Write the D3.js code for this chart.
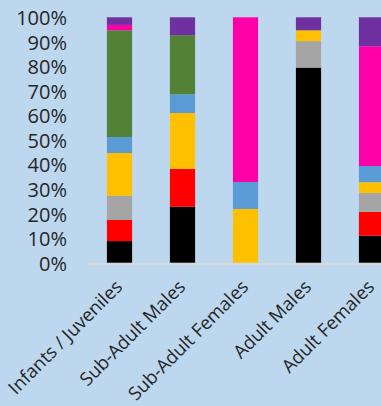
<!DOCTYPE html>
<html><head><meta charset="utf-8">
<script src="https://cdn.jsdelivr.net/npm/d3@7"></script>
<style>html,body{margin:0;padding:0;background:#BDD7EE;}svg{display:block;}</style>
</head><body>
<svg id="c" width="381" height="406"></svg>
<script>
const categories = ["Infants / Juveniles", "Sub-Adult Males", "Sub-Adult Females", "Adult Males", "Adult Females"];
const seriesNames = ["s1", "s2", "s3", "s4", "s5", "s6", "s7", "s8"];
const seriesColors = ["#000000", "#FF0000", "#A5A5A5", "#FFC000", "#5B9BD5", "#538135", "#FF00A8", "#7030A0"];
const s1 = [8.8, 22.8, 0, 79.5, 11.0];
const s2 = [8.6, 15.4, 0, 0, 9.7];
const s3 = [9.9, 0, 0, 10.8, 7.7];
const s4 = [17.4, 22.8, 21.9, 4.4, 4.4];
const s5 = [6.5, 7.6, 11.0, 0, 6.6];
const s6 = [43.5, 24.1, 0, 0, 0];
const s7 = [2.2, 0, 67.1, 0, 48.8];
const s8 = [3.1, 7.3, 0, 5.3, 11.8];
const yTicks = [0, 0.1, 0.2, 0.3, 0.4, 0.5, 0.6, 0.7, 0.8, 0.9, 1.0];

const values = [s1, s2, s3, s4, s5, s6, s7, s8];
const rows = categories.map((c, i) => {
  const r = {cat: c};
  const tot = d3.sum(values, v => v[i]);
  seriesNames.forEach((s, j) => r[s] = values[j][i] / tot);
  return r;
});
const stack = d3.stack().keys(seriesNames)(rows);

const svg = d3.select("#c");
const x = d3.scaleBand().domain(categories).range([88, 403]).paddingInner(0.6).paddingOuter(0.3);
const y = d3.scaleLinear().domain([0, 1]).range([262.7, 17.3]);

svg.append("g").selectAll("g").data(stack).join("g")
  .attr("fill", (d, i) => seriesColors[i])
  .selectAll("rect").data(d => d).join("rect")
  .attr("x", d => x(d.data.cat))
  .attr("width", x.bandwidth())
  .attr("y", d => y(d[1]))
  .attr("height", d => Math.max(0, y(d[0]) - y(d[1])));

svg.append("line").attr("x1", 88).attr("x2", 381).attr("y1", 264).attr("y2", 264)
  .attr("stroke", "#D9D9D9").attr("stroke-width", 2);

const yAxis = d3.axisLeft(y).tickValues(yTicks).tickFormat(d3.format(".0%")).tickSize(0).tickPadding(0);
const ga = svg.append("g").attr("transform", "translate(67,1)").call(yAxis);
ga.select(".domain").remove();
ga.selectAll("text").attr("font-family", "Open Sans").attr("font-size", 20).attr("fill", "#262626");

const xAxis = d3.axisBottom(x).tickSize(0).tickPadding(0);
const gx = svg.append("g").attr("transform", "translate(0,270)").call(xAxis);
gx.select(".domain").remove();
gx.selectAll("text")
  .attr("font-family", "Open Sans").attr("font-size", 18.5).attr("fill", "#262626")
  .attr("text-anchor", "end").attr("dy", "0")
  .attr("transform", "translate(4,18) rotate(-45)");
</script>
</body></html>
